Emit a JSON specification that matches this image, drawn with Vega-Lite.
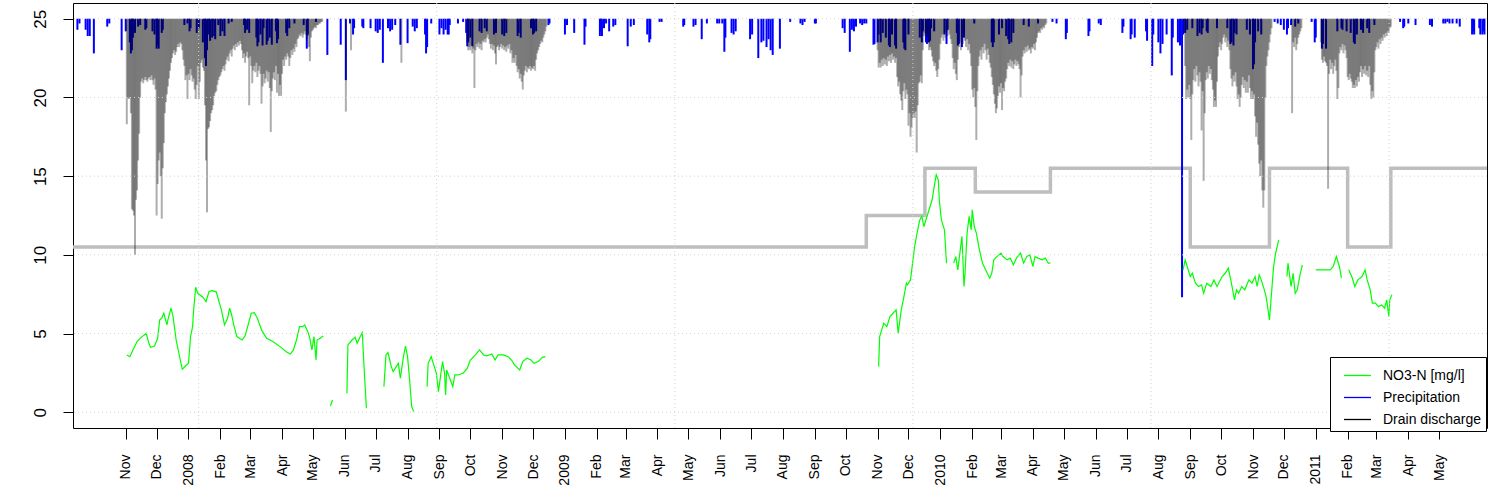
{
"$schema":"https://vega.github.io/schema/vega-lite/v6.json",
"width":1414,"height":425,
"autosize":{"type":"none"},
"padding":{"left":73,"top":3,"right":10,"bottom":61},
"background":"white",
"config":{"font":"Liberation Sans","view":{"stroke":"black","strokeWidth":1},
 "axisX":{"labelOverlap":false,"labelSeparation":0,"labelBound":false,"labelFlush":false},
 "axisY":{"labelOverlap":false,"labelAngle":270}},
"resolve":{"scale":{"y":"independent"}},
"encoding":{
 "x":{"field":"t","type":"temporal","scale":{"type":"utc","domain":[{"year":2007,"month":9,"date":10,"hours":17,"utc":true},{"year":2011,"month":6,"date":16,"hours":12,"utc":true}]},
  "axis":{"values":[1193875200000,1196467200000,1199145600000,1201824000000,1204329600000,1207008000000,1209600000000,1212278400000,1214870400000,1217548800000,1220227200000,1222819200000,1225497600000,1228089600000,1230768000000,1233446400000,1235865600000,1238544000000,1241136000000,1243814400000,1246406400000,1249084800000,1251763200000,1254355200000,1257033600000,1259625600000,1262304000000,1264982400000,1267401600000,1270080000000,1272672000000,1275350400000,1277942400000,1280620800000,1283299200000,1285891200000,1288569600000,1291161600000,1293840000000,1296518400000,1298937600000,1301616000000,1304208000000],
   "labelExpr":"utcmonth(datum.value) == 0 ? utcFormat(datum.value, '%Y') : utcFormat(datum.value, '%b')",
   "labelAngle":270,"labelAlign":"right","labelBaseline":"middle","labelFontSize":14,"labelColor":"black","labelPadding":15,"tickSize":11,"tickColor":"black","domain":false,"grid":false,"title":null,"labelOverlap":false,"labelFlush":false,"labelSeparation":0,"labelBound":false}}},
"datasets":{
"step":[{"t":"2007-09-01","v":10.5},{"t":"2009-10-21","v":12.5},{"t":"2009-12-17","v":15.5},{"t":"2010-02-04","v":14},{"t":"2010-04-18","v":15.5},{"t":"2010-09-01","v":10.5},{"t":"2010-11-17","v":15.5},{"t":"2011-02-01","v":10.5},{"t":"2011-03-15","v":15.5},{"t":"2011-07-01","v":15.5}],
"grid":[{"t":"2008-01-10T21:20:00Z"},{"t":"2008-08-29T08:53:20Z"},{"t":"2009-04-17T20:26:40Z"},{"t":"2009-12-05T08:00:00Z"},{"t":"2010-07-24T19:33:20Z"},{"t":"2011-03-13T07:06:40Z"}],
"hgrid":[{"v":0},{"v":5},{"v":10},{"v":15},{"v":20},{"v":25}],
"prec":[{"t":"2007-09-15","v":0.7},{"t":"2007-09-17","v":0.3},{"t":"2007-09-23","v":0.7},{"t":"2007-09-25","v":1.1},{"t":"2007-09-27","v":1.1},{"t":"2007-10-01","v":2.2},{"t":"2007-10-14","v":0.5},{"t":"2007-10-16","v":0.3},{"t":"2007-10-28","v":2.0},{"t":"2007-11-01","v":0.8},{"t":"2007-11-05","v":1.5},{"t":"2007-11-06","v":2.2},{"t":"2007-11-07","v":2.0},{"t":"2007-11-08","v":1.2},{"t":"2007-11-10","v":0.9},{"t":"2007-11-13","v":0.5},{"t":"2007-11-15","v":0.4},{"t":"2007-11-20","v":0.7},{"t":"2007-11-21","v":0.6},{"t":"2007-11-27","v":0.8},{"t":"2007-11-29","v":1.0},{"t":"2007-12-01","v":1.9},{"t":"2007-12-02","v":1.7},{"t":"2007-12-03","v":1.9},{"t":"2007-12-06","v":0.9},{"t":"2007-12-07","v":0.7},{"t":"2007-12-28","v":0.4},{"t":"2007-12-31","v":0.3},{"t":"2008-01-02","v":0.8},{"t":"2008-01-03","v":0.6},{"t":"2008-01-09","v":0.9},{"t":"2008-01-11","v":0.6},{"t":"2008-01-15","v":1.5},{"t":"2008-01-17","v":2.5},{"t":"2008-01-18","v":3.0},{"t":"2008-01-19","v":2.0},{"t":"2008-01-21","v":1.0},{"t":"2008-01-22","v":1.4},{"t":"2008-01-24","v":1.2},{"t":"2008-01-26","v":1.1},{"t":"2008-01-27","v":1.3},{"t":"2008-01-30","v":0.4},{"t":"2008-02-01","v":1.1},{"t":"2008-02-03","v":0.8},{"t":"2008-02-05","v":1.1},{"t":"2008-02-09","v":0.3},{"t":"2008-02-12","v":0.2},{"t":"2008-02-24","v":0.4},{"t":"2008-02-25","v":0.9},{"t":"2008-02-27","v":0.7},{"t":"2008-02-29","v":0.9},{"t":"2008-03-07","v":1.2},{"t":"2008-03-08","v":1.75},{"t":"2008-03-09","v":1.5},{"t":"2008-03-11","v":1.0},{"t":"2008-03-13","v":1.7},{"t":"2008-03-14","v":0.6},{"t":"2008-03-17","v":1.65},{"t":"2008-03-18","v":1.4},{"t":"2008-03-20","v":1.2},{"t":"2008-03-22","v":1.65},{"t":"2008-03-26","v":0.8},{"t":"2008-03-27","v":1.55},{"t":"2008-03-28","v":1.3},{"t":"2008-04-05","v":0.9},{"t":"2008-04-06","v":1.1},{"t":"2008-04-08","v":0.6},{"t":"2008-04-13","v":0.3},{"t":"2008-04-22","v":0.4},{"t":"2008-04-25","v":1.9},{"t":"2008-04-26","v":1.0},{"t":"2008-05-04","v":0.2},{"t":"2008-05-15","v":2.3},{"t":"2008-05-28","v":1.65},{"t":"2008-06-02","v":3.9},{"t":"2008-06-06","v":0.3},{"t":"2008-06-09","v":1.0},{"t":"2008-06-10","v":0.6},{"t":"2008-06-18","v":0.5},{"t":"2008-06-19","v":0.6},{"t":"2008-06-26","v":0.6},{"t":"2008-07-01","v":0.8},{"t":"2008-07-03","v":0.9},{"t":"2008-07-05","v":0.7},{"t":"2008-07-08","v":2.8},{"t":"2008-07-13","v":0.6},{"t":"2008-07-15","v":0.8},{"t":"2008-07-17","v":0.7},{"t":"2008-07-20","v":0.4},{"t":"2008-07-25","v":1.65},{"t":"2008-08-01","v":1.55},{"t":"2008-08-06","v":0.5},{"t":"2008-08-08","v":0.8},{"t":"2008-08-10","v":0.6},{"t":"2008-08-18","v":1.0},{"t":"2008-08-19","v":2.2},{"t":"2008-08-20","v":1.8},{"t":"2008-08-24","v":0.3},{"t":"2008-09-01","v":1.0},{"t":"2008-09-03","v":0.6},{"t":"2008-09-05","v":1.0},{"t":"2008-09-07","v":0.7},{"t":"2008-09-09","v":1.0},{"t":"2008-09-10","v":1.0},{"t":"2008-09-11","v":0.4},{"t":"2008-09-19","v":0.3},{"t":"2008-09-24","v":0.2},{"t":"2008-09-27","v":0.9},{"t":"2008-09-28","v":1.75},{"t":"2008-09-29","v":1.5},{"t":"2008-10-01","v":1.2},{"t":"2008-10-03","v":1.75},{"t":"2008-10-10","v":0.8},{"t":"2008-10-12","v":0.9},{"t":"2008-10-15","v":0.6},{"t":"2008-10-17","v":0.8},{"t":"2008-10-24","v":1.0},{"t":"2008-10-26","v":0.9},{"t":"2008-11-01","v":1.0},{"t":"2008-11-03","v":1.1},{"t":"2008-11-05","v":0.9},{"t":"2008-11-16","v":1.1},{"t":"2008-11-17","v":0.9},{"t":"2008-11-19","v":1.2},{"t":"2008-11-29","v":0.6},{"t":"2008-12-01","v":1.0},{"t":"2008-12-02","v":0.9},{"t":"2008-12-04","v":0.8},{"t":"2008-12-16","v":0.4},{"t":"2008-12-17","v":0.3},{"t":"2009-01-01","v":1.0},{"t":"2009-01-03","v":0.4},{"t":"2009-01-10","v":0.9},{"t":"2009-01-20","v":1.65},{"t":"2009-01-21","v":0.5},{"t":"2009-02-04","v":1.1},{"t":"2009-02-05","v":0.8},{"t":"2009-02-06","v":1.1},{"t":"2009-02-08","v":0.6},{"t":"2009-02-10","v":0.3},{"t":"2009-02-13","v":0.8},{"t":"2009-02-17","v":0.5},{"t":"2009-02-19","v":0.4},{"t":"2009-03-03","v":1.75},{"t":"2009-03-06","v":0.5},{"t":"2009-03-09","v":0.4},{"t":"2009-03-22","v":1.0},{"t":"2009-03-24","v":1.5},{"t":"2009-03-25","v":1.3},{"t":"2009-04-03","v":0.2},{"t":"2009-04-05","v":0.2},{"t":"2009-04-26","v":0.5},{"t":"2009-04-27","v":0.4},{"t":"2009-05-06","v":0.5},{"t":"2009-05-08","v":0.4},{"t":"2009-05-14","v":1.3},{"t":"2009-05-19","v":0.3},{"t":"2009-05-29","v":0.3},{"t":"2009-05-31","v":0.3},{"t":"2009-06-03","v":0.3},{"t":"2009-06-05","v":2.1},{"t":"2009-06-06","v":1.2},{"t":"2009-06-12","v":0.9},{"t":"2009-06-14","v":1.0},{"t":"2009-06-16","v":0.8},{"t":"2009-06-30","v":1.3},{"t":"2009-07-02","v":1.0},{"t":"2009-07-08","v":2.5},{"t":"2009-07-11","v":1.5},{"t":"2009-07-13","v":1.4},{"t":"2009-07-16","v":1.8},{"t":"2009-07-18","v":1.3},{"t":"2009-07-20","v":2.0},{"t":"2009-07-22","v":2.3},{"t":"2009-07-29","v":1.9},{"t":"2009-08-08","v":0.2},{"t":"2009-08-18","v":0.3},{"t":"2009-08-20","v":0.4},{"t":"2009-08-22","v":0.2},{"t":"2009-09-01","v":0.3},{"t":"2009-09-02","v":0.3},{"t":"2009-09-28","v":0.6},{"t":"2009-09-30","v":0.9},{"t":"2009-10-05","v":2.1},{"t":"2009-10-07","v":0.7},{"t":"2009-10-09","v":0.8},{"t":"2009-10-11","v":0.5},{"t":"2009-10-15","v":0.3},{"t":"2009-10-17","v":0.4},{"t":"2009-10-19","v":0.3},{"t":"2009-10-21","v":0.3},{"t":"2009-10-28","v":1.65},{"t":"2009-10-29","v":1.6},{"t":"2009-11-01","v":1.5},{"t":"2009-11-02","v":1.0},{"t":"2009-11-04","v":1.5},{"t":"2009-11-06","v":0.9},{"t":"2009-11-09","v":1.2},{"t":"2009-11-12","v":1.7},{"t":"2009-11-13","v":1.8},{"t":"2009-11-15","v":1.0},{"t":"2009-11-18","v":1.7},{"t":"2009-11-19","v":1.9},{"t":"2009-11-26","v":1.5},{"t":"2009-11-27","v":1.9},{"t":"2009-11-28","v":2.0},{"t":"2009-12-01","v":1.0},{"t":"2009-12-12","v":1.2},{"t":"2009-12-14","v":1.5},{"t":"2009-12-15","v":0.8},{"t":"2009-12-18","v":1.5},{"t":"2009-12-19","v":1.6},{"t":"2009-12-21","v":1.5},{"t":"2009-12-22","v":1.4},{"t":"2009-12-23","v":0.6},{"t":"2009-12-26","v":0.8},{"t":"2010-01-05","v":1.0},{"t":"2010-01-07","v":1.6},{"t":"2010-01-08","v":0.7},{"t":"2010-01-17","v":0.9},{"t":"2010-01-18","v":1.7},{"t":"2010-01-19","v":1.6},{"t":"2010-01-22","v":1.8},{"t":"2010-01-24","v":1.2},{"t":"2010-02-03","v":0.3},{"t":"2010-02-20","v":1.5},{"t":"2010-02-21","v":1.8},{"t":"2010-02-22","v":1.5},{"t":"2010-02-27","v":1.0},{"t":"2010-03-02","v":0.6},{"t":"2010-03-06","v":1.1},{"t":"2010-03-08","v":1.3},{"t":"2010-03-09","v":1.6},{"t":"2010-03-11","v":1.5},{"t":"2010-03-13","v":0.9},{"t":"2010-03-23","v":0.4},{"t":"2010-03-28","v":0.5},{"t":"2010-04-06","v":0.3},{"t":"2010-04-20","v":0.2},{"t":"2010-04-24","v":0.3},{"t":"2010-05-03","v":1.3},{"t":"2010-05-04","v":0.9},{"t":"2010-05-25","v":1.1},{"t":"2010-05-26","v":0.8},{"t":"2010-06-04","v":0.3},{"t":"2010-06-06","v":0.4},{"t":"2010-06-27","v":0.9},{"t":"2010-06-28","v":0.5},{"t":"2010-07-05","v":1.3},{"t":"2010-07-06","v":1.0},{"t":"2010-07-09","v":1.2},{"t":"2010-07-20","v":0.8},{"t":"2010-07-21","v":1.4},{"t":"2010-07-26","v":3.0},{"t":"2010-07-27","v":1.0},{"t":"2010-08-01","v":1.5},{"t":"2010-08-03","v":2.2},{"t":"2010-08-05","v":1.6},{"t":"2010-08-09","v":1.0},{"t":"2010-08-14","v":3.6},{"t":"2010-08-15","v":1.2},{"t":"2010-08-20","v":1.5},{"t":"2010-08-22","v":1.7},{"t":"2010-08-24","v":17.7},{"t":"2010-08-25","v":1.0},{"t":"2010-08-27","v":0.9},{"t":"2010-08-29","v":0.7},{"t":"2010-09-03","v":0.6},{"t":"2010-09-08","v":1.1},{"t":"2010-09-10","v":0.9},{"t":"2010-09-12","v":1.0},{"t":"2010-09-13","v":0.6},{"t":"2010-09-17","v":0.8},{"t":"2010-09-18","v":0.9},{"t":"2010-09-27","v":0.6},{"t":"2010-10-07","v":0.6},{"t":"2010-10-10","v":1.6},{"t":"2010-10-11","v":1.5},{"t":"2010-10-13","v":1.7},{"t":"2010-10-14","v":0.9},{"t":"2010-10-16","v":1.0},{"t":"2010-10-26","v":0.7},{"t":"2010-10-29","v":1.0},{"t":"2010-11-01","v":3.2},{"t":"2010-11-02","v":2.9},{"t":"2010-11-03","v":1.5},{"t":"2010-11-06","v":0.8},{"t":"2010-11-09","v":1.0},{"t":"2010-11-22","v":0.2},{"t":"2010-11-25","v":0.3},{"t":"2010-11-28","v":0.4},{"t":"2010-12-01","v":0.7},{"t":"2010-12-04","v":1.0},{"t":"2010-12-05","v":0.6},{"t":"2010-12-08","v":0.4},{"t":"2010-12-12","v":0.5},{"t":"2010-12-15","v":0.3},{"t":"2010-12-28","v":0.2},{"t":"2010-12-31","v":1.5},{"t":"2011-01-01","v":1.2},{"t":"2011-01-07","v":1.9},{"t":"2011-01-08","v":1.6},{"t":"2011-01-11","v":1.9},{"t":"2011-01-22","v":0.8},{"t":"2011-01-26","v":0.6},{"t":"2011-01-27","v":0.7},{"t":"2011-01-31","v":0.8},{"t":"2011-02-04","v":0.9},{"t":"2011-02-07","v":1.5},{"t":"2011-02-08","v":1.6},{"t":"2011-02-10","v":1.0},{"t":"2011-02-14","v":0.7},{"t":"2011-02-16","v":0.9},{"t":"2011-02-20","v":0.6},{"t":"2011-02-22","v":0.9},{"t":"2011-02-27","v":0.4},{"t":"2011-03-24","v":0.2},{"t":"2011-03-27","v":0.6},{"t":"2011-03-28","v":0.5},{"t":"2011-04-01","v":0.3},{"t":"2011-04-08","v":0.4},{"t":"2011-04-22","v":0.4},{"t":"2011-04-24","v":0.5},{"t":"2011-05-05","v":0.3},{"t":"2011-05-07","v":0.3},{"t":"2011-05-09","v":0.2},{"t":"2011-05-11","v":0.3},{"t":"2011-05-14","v":0.3},{"t":"2011-05-18","v":0.3},{"t":"2011-05-21","v":0.5},{"t":"2011-06-02","v":1.0},{"t":"2011-06-03","v":0.8},{"t":"2011-06-04","v":1.0},{"t":"2011-06-09","v":0.6},{"t":"2011-06-10","v":1.0},{"t":"2011-06-12","v":1.0},{"t":"2011-06-13","v":0.8},{"t":"2011-06-14","v":1.0}],
"dis":[{"t":"2007-11-02","v":6.7},{"t":"2007-11-03","v":5.0},{"t":"2007-11-04","v":5.1},{"t":"2007-11-05","v":5.0},{"t":"2007-11-06","v":6.0},{"t":"2007-11-07","v":12.1},{"t":"2007-11-08","v":12.2},{"t":"2007-11-09","v":12.5},{"t":"2007-11-10","v":15.0},{"t":"2007-11-11","v":11.5},{"t":"2007-11-12","v":10.9},{"t":"2007-11-13","v":9.0},{"t":"2007-11-14","v":7.3},{"t":"2007-11-15","v":5.0},{"t":"2007-11-16","v":4.0},{"t":"2007-11-17","v":3.8},{"t":"2007-11-18","v":4.1},{"t":"2007-11-19","v":3.9},{"t":"2007-11-20","v":3.7},{"t":"2007-11-21","v":3.9},{"t":"2007-11-22","v":4.0},{"t":"2007-11-23","v":3.8},{"t":"2007-11-24","v":3.7},{"t":"2007-11-25","v":3.9},{"t":"2007-11-26","v":3.6},{"t":"2007-11-27","v":3.9},{"t":"2007-11-28","v":4.2},{"t":"2007-11-29","v":3.8},{"t":"2007-11-30","v":4.5},{"t":"2007-12-01","v":12.5},{"t":"2007-12-02","v":10.5},{"t":"2007-12-03","v":9.0},{"t":"2007-12-04","v":8.5},{"t":"2007-12-05","v":10.0},{"t":"2007-12-06","v":12.7},{"t":"2007-12-07","v":9.5},{"t":"2007-12-08","v":7.9},{"t":"2007-12-09","v":6.0},{"t":"2007-12-10","v":5.3},{"t":"2007-12-11","v":4.8},{"t":"2007-12-12","v":4.3},{"t":"2007-12-13","v":3.8},{"t":"2007-12-14","v":3.3},{"t":"2007-12-15","v":2.8},{"t":"2007-12-16","v":2.5},{"t":"2007-12-17","v":2.2},{"t":"2007-12-18","v":2.0},{"t":"2007-12-19","v":2.3},{"t":"2007-12-20","v":2.1},{"t":"2007-12-21","v":1.8},{"t":"2007-12-22","v":1.6},{"t":"2007-12-23","v":1.8},{"t":"2007-12-24","v":1.5},{"t":"2007-12-25","v":1.6},{"t":"2007-12-26","v":2.0},{"t":"2007-12-27","v":2.6},{"t":"2007-12-28","v":3.0},{"t":"2007-12-29","v":3.9},{"t":"2007-12-30","v":3.6},{"t":"2007-12-31","v":5.1},{"t":"2008-01-01","v":3.5},{"t":"2008-01-02","v":3.9},{"t":"2008-01-03","v":3.2},{"t":"2008-01-04","v":3.6},{"t":"2008-01-05","v":4.0},{"t":"2008-01-06","v":3.8},{"t":"2008-01-07","v":4.5},{"t":"2008-01-08","v":5.1},{"t":"2008-01-09","v":4.2},{"t":"2008-01-10","v":3.0},{"t":"2008-01-11","v":5.1},{"t":"2008-01-12","v":4.0},{"t":"2008-01-13","v":2.8},{"t":"2008-01-14","v":2.6},{"t":"2008-01-15","v":3.1},{"t":"2008-01-16","v":3.3},{"t":"2008-01-17","v":5.5},{"t":"2008-01-18","v":9.0},{"t":"2008-01-19","v":12.3},{"t":"2008-01-20","v":7.0},{"t":"2008-01-21","v":6.9},{"t":"2008-01-22","v":6.5},{"t":"2008-01-23","v":6.0},{"t":"2008-01-24","v":5.8},{"t":"2008-01-25","v":5.5},{"t":"2008-01-26","v":4.9},{"t":"2008-01-27","v":4.7},{"t":"2008-01-28","v":4.6},{"t":"2008-01-29","v":4.2},{"t":"2008-01-30","v":3.9},{"t":"2008-01-31","v":3.7},{"t":"2008-02-01","v":3.6},{"t":"2008-02-02","v":3.4},{"t":"2008-02-03","v":3.2},{"t":"2008-02-04","v":3.0},{"t":"2008-02-05","v":3.3},{"t":"2008-02-06","v":2.9},{"t":"2008-02-07","v":2.6},{"t":"2008-02-08","v":2.4},{"t":"2008-02-09","v":2.7},{"t":"2008-02-10","v":2.2},{"t":"2008-02-11","v":2.0},{"t":"2008-02-12","v":2.4},{"t":"2008-02-13","v":1.9},{"t":"2008-02-14","v":1.7},{"t":"2008-02-15","v":2.0},{"t":"2008-02-16","v":1.6},{"t":"2008-02-17","v":1.8},{"t":"2008-02-18","v":1.5},{"t":"2008-02-19","v":1.7},{"t":"2008-02-20","v":1.4},{"t":"2008-02-21","v":1.6},{"t":"2008-02-22","v":2.0},{"t":"2008-02-23","v":2.5},{"t":"2008-02-24","v":2.2},{"t":"2008-02-25","v":2.8},{"t":"2008-02-26","v":2.4},{"t":"2008-02-27","v":2.1},{"t":"2008-02-28","v":2.5},{"t":"2008-02-29","v":5.5},{"t":"2008-03-01","v":2.4},{"t":"2008-03-02","v":3.0},{"t":"2008-03-03","v":4.1},{"t":"2008-03-04","v":3.3},{"t":"2008-03-05","v":3.0},{"t":"2008-03-06","v":3.4},{"t":"2008-03-07","v":2.8},{"t":"2008-03-08","v":3.7},{"t":"2008-03-09","v":3.3},{"t":"2008-03-10","v":3.0},{"t":"2008-03-11","v":3.5},{"t":"2008-03-12","v":5.4},{"t":"2008-03-13","v":4.3},{"t":"2008-03-14","v":3.5},{"t":"2008-03-15","v":4.1},{"t":"2008-03-16","v":3.8},{"t":"2008-03-17","v":3.3},{"t":"2008-03-18","v":4.0},{"t":"2008-03-19","v":3.4},{"t":"2008-03-20","v":4.4},{"t":"2008-03-21","v":7.2},{"t":"2008-03-22","v":4.6},{"t":"2008-03-23","v":3.8},{"t":"2008-03-24","v":3.4},{"t":"2008-03-25","v":3.9},{"t":"2008-03-26","v":3.0},{"t":"2008-03-27","v":4.7},{"t":"2008-03-28","v":3.5},{"t":"2008-03-29","v":4.9},{"t":"2008-03-30","v":4.2},{"t":"2008-03-31","v":4.9},{"t":"2008-04-01","v":3.5},{"t":"2008-04-02","v":2.6},{"t":"2008-04-03","v":3.0},{"t":"2008-04-04","v":2.4},{"t":"2008-04-05","v":2.6},{"t":"2008-04-06","v":2.2},{"t":"2008-04-07","v":2.4},{"t":"2008-04-08","v":3.0},{"t":"2008-04-09","v":2.5},{"t":"2008-04-10","v":2.0},{"t":"2008-04-11","v":2.3},{"t":"2008-04-12","v":1.9},{"t":"2008-04-13","v":2.1},{"t":"2008-04-14","v":1.6},{"t":"2008-04-15","v":1.8},{"t":"2008-04-16","v":1.3},{"t":"2008-04-17","v":1.2},{"t":"2008-04-18","v":1.0},{"t":"2008-04-19","v":1.1},{"t":"2008-04-20","v":0.9},{"t":"2008-04-21","v":1.2},{"t":"2008-04-22","v":1.0},{"t":"2008-04-23","v":0.8},{"t":"2008-04-24","v":1.0},{"t":"2008-04-25","v":1.3},{"t":"2008-04-26","v":1.1},{"t":"2008-04-27","v":1.8},{"t":"2008-04-28","v":2.7},{"t":"2008-04-29","v":1.2},{"t":"2008-04-30","v":0.8},{"t":"2008-05-01","v":0.7},{"t":"2008-05-02","v":0.6},{"t":"2008-05-03","v":0.5},{"t":"2008-05-04","v":0.6},{"t":"2008-05-05","v":0.4},{"t":"2008-05-06","v":0.4},{"t":"2008-05-07","v":0.3},{"t":"2008-05-08","v":0.3},{"t":"2008-05-09","v":0.2},{"t":"2008-05-10","v":0.2},{"t":"2008-06-02","v":5.9},{"t":"2008-06-07","v":2.0},{"t":"2008-07-26","v":2.8},
{"t":"2008-09-28","v":1.5},{"t":"2008-09-29","v":2.0},{"t":"2008-09-30","v":1.8},{"t":"2008-10-01","v":2.0},{"t":"2008-10-02","v":1.7},{"t":"2008-10-03","v":2.2},{"t":"2008-10-04","v":1.9},{"t":"2008-10-05","v":4.4},{"t":"2008-10-06","v":2.0},{"t":"2008-10-07","v":1.6},{"t":"2008-10-08","v":1.8},{"t":"2008-10-09","v":1.5},{"t":"2008-10-10","v":1.9},{"t":"2008-10-11","v":1.6},{"t":"2008-10-12","v":2.0},{"t":"2008-10-13","v":1.4},{"t":"2008-10-14","v":1.5},{"t":"2008-10-15","v":1.3},{"t":"2008-10-16","v":1.5},{"t":"2008-10-17","v":1.2},{"t":"2008-10-18","v":1.0},{"t":"2008-10-19","v":1.3},{"t":"2008-10-20","v":1.6},{"t":"2008-10-21","v":1.9},{"t":"2008-10-22","v":1.6},{"t":"2008-10-23","v":2.0},{"t":"2008-10-24","v":1.7},{"t":"2008-10-25","v":2.2},{"t":"2008-10-26","v":2.9},{"t":"2008-10-27","v":1.8},{"t":"2008-10-28","v":1.7},{"t":"2008-10-29","v":2.0},{"t":"2008-10-30","v":1.8},{"t":"2008-10-31","v":1.6},{"t":"2008-11-01","v":1.9},{"t":"2008-11-02","v":1.7},{"t":"2008-11-03","v":2.0},{"t":"2008-11-04","v":1.8},{"t":"2008-11-05","v":2.1},{"t":"2008-11-06","v":1.7},{"t":"2008-11-07","v":1.9},{"t":"2008-11-08","v":1.6},{"t":"2008-11-09","v":2.2},{"t":"2008-11-10","v":2.0},{"t":"2008-11-11","v":2.8},{"t":"2008-11-12","v":2.5},{"t":"2008-11-13","v":2.8},{"t":"2008-11-14","v":2.3},{"t":"2008-11-15","v":3.0},{"t":"2008-11-16","v":3.4},{"t":"2008-11-17","v":3.2},{"t":"2008-11-18","v":3.8},{"t":"2008-11-19","v":3.5},{"t":"2008-11-20","v":4.0},{"t":"2008-11-21","v":4.5},{"t":"2008-11-22","v":3.6},{"t":"2008-11-23","v":3.3},{"t":"2008-11-24","v":3.0},{"t":"2008-11-25","v":3.4},{"t":"2008-11-26","v":3.1},{"t":"2008-11-27","v":3.2},{"t":"2008-11-28","v":3.0},{"t":"2008-11-29","v":3.3},{"t":"2008-11-30","v":3.1},{"t":"2008-12-01","v":3.2},{"t":"2008-12-02","v":3.0},{"t":"2008-12-03","v":3.3},{"t":"2008-12-04","v":2.6},{"t":"2008-12-05","v":2.2},{"t":"2008-12-06","v":2.0},{"t":"2008-12-07","v":1.8},{"t":"2008-12-08","v":1.6},{"t":"2008-12-09","v":1.4},{"t":"2008-12-10","v":1.5},{"t":"2008-12-11","v":1.2},{"t":"2008-12-12","v":1.0},{"t":"2008-12-13","v":0.8},{"t":"2008-12-14","v":0.5},
{"t":"2009-11-01","v":2.0},{"t":"2009-11-02","v":3.1},{"t":"2009-11-03","v":2.8},{"t":"2009-11-04","v":3.1},{"t":"2009-11-05","v":2.6},{"t":"2009-11-06","v":3.0},{"t":"2009-11-07","v":2.5},{"t":"2009-11-08","v":2.9},{"t":"2009-11-09","v":2.6},{"t":"2009-11-10","v":3.0},{"t":"2009-11-11","v":2.4},{"t":"2009-11-12","v":2.7},{"t":"2009-11-13","v":2.3},{"t":"2009-11-14","v":2.8},{"t":"2009-11-15","v":2.2},{"t":"2009-11-16","v":2.6},{"t":"2009-11-17","v":2.4},{"t":"2009-11-18","v":2.8},{"t":"2009-11-19","v":2.5},{"t":"2009-11-20","v":3.7},{"t":"2009-11-21","v":4.3},{"t":"2009-11-22","v":4.0},{"t":"2009-11-23","v":4.8},{"t":"2009-11-24","v":5.2},{"t":"2009-11-25","v":5.8},{"t":"2009-11-26","v":4.6},{"t":"2009-11-27","v":4.1},{"t":"2009-11-28","v":5.1},{"t":"2009-11-29","v":4.5},{"t":"2009-11-30","v":4.8},{"t":"2009-12-01","v":6.8},{"t":"2009-12-02","v":6.0},{"t":"2009-12-03","v":7.5},{"t":"2009-12-04","v":6.9},{"t":"2009-12-05","v":6.3},{"t":"2009-12-06","v":6.0},{"t":"2009-12-07","v":6.3},{"t":"2009-12-08","v":5.9},{"t":"2009-12-09","v":8.5},{"t":"2009-12-10","v":5.5},{"t":"2009-12-11","v":4.1},{"t":"2009-12-12","v":4.0},{"t":"2009-12-13","v":3.6},{"t":"2009-12-14","v":4.1},{"t":"2009-12-15","v":2.0},{"t":"2009-12-16","v":1.1},{"t":"2009-12-17","v":0.9},{"t":"2009-12-18","v":1.0},{"t":"2009-12-19","v":1.2},{"t":"2009-12-20","v":1.5},{"t":"2009-12-21","v":2.0},{"t":"2009-12-22","v":1.8},{"t":"2009-12-23","v":2.0},{"t":"2009-12-24","v":2.4},{"t":"2009-12-25","v":2.7},{"t":"2009-12-26","v":3.0},{"t":"2009-12-27","v":2.8},{"t":"2009-12-28","v":3.3},{"t":"2009-12-29","v":3.7},{"t":"2009-12-30","v":3.2},{"t":"2009-12-31","v":2.6},{"t":"2010-01-01","v":1.6},{"t":"2010-01-02","v":1.2},{"t":"2010-01-03","v":1.0},{"t":"2010-01-04","v":1.4},{"t":"2010-01-05","v":0.9},{"t":"2010-01-06","v":1.2},{"t":"2010-01-07","v":0.8},{"t":"2010-01-08","v":1.1},{"t":"2010-01-09","v":0.7},{"t":"2010-01-10","v":1.0},{"t":"2010-01-11","v":1.3},{"t":"2010-01-12","v":1.6},{"t":"2010-01-13","v":2.5},{"t":"2010-01-14","v":3.2},{"t":"2010-01-15","v":2.8},{"t":"2010-01-16","v":3.5},{"t":"2010-01-17","v":3.9},{"t":"2010-01-18","v":2.6},{"t":"2010-01-19","v":1.8},{"t":"2010-01-20","v":1.5},{"t":"2010-01-21","v":2.0},{"t":"2010-01-22","v":1.2},{"t":"2010-01-23","v":1.6},{"t":"2010-01-24","v":1.0},{"t":"2010-01-25","v":1.4},{"t":"2010-01-26","v":1.8},{"t":"2010-01-27","v":1.3},{"t":"2010-01-28","v":2.0},{"t":"2010-01-29","v":1.6},{"t":"2010-01-30","v":2.2},{"t":"2010-01-31","v":3.0},{"t":"2010-02-01","v":4.5},{"t":"2010-02-02","v":5.0},{"t":"2010-02-03","v":4.4},{"t":"2010-02-04","v":5.6},{"t":"2010-02-05","v":7.7},{"t":"2010-02-06","v":4.6},{"t":"2010-02-07","v":3.0},{"t":"2010-02-08","v":2.4},{"t":"2010-02-09","v":2.0},{"t":"2010-02-10","v":2.6},{"t":"2010-02-11","v":1.8},{"t":"2010-02-12","v":2.2},{"t":"2010-02-13","v":1.6},{"t":"2010-02-14","v":2.0},{"t":"2010-02-15","v":2.6},{"t":"2010-02-16","v":1.9},{"t":"2010-02-17","v":2.3},{"t":"2010-02-18","v":2.8},{"t":"2010-02-19","v":3.1},{"t":"2010-02-20","v":3.7},{"t":"2010-02-21","v":4.2},{"t":"2010-02-22","v":4.8},{"t":"2010-02-23","v":5.4},{"t":"2010-02-24","v":6.0},{"t":"2010-02-25","v":5.7},{"t":"2010-02-26","v":4.9},{"t":"2010-02-27","v":4.3},{"t":"2010-02-28","v":4.7},{"t":"2010-03-01","v":4.1},{"t":"2010-03-02","v":5.8},{"t":"2010-03-03","v":4.4},{"t":"2010-03-04","v":4.6},{"t":"2010-03-05","v":4.0},{"t":"2010-03-06","v":3.8},{"t":"2010-03-07","v":3.2},{"t":"2010-03-08","v":2.8},{"t":"2010-03-09","v":3.0},{"t":"2010-03-10","v":2.6},{"t":"2010-03-11","v":3.1},{"t":"2010-03-12","v":2.7},{"t":"2010-03-13","v":3.2},{"t":"2010-03-14","v":2.9},{"t":"2010-03-15","v":2.6},{"t":"2010-03-16","v":3.0},{"t":"2010-03-17","v":2.7},{"t":"2010-03-18","v":2.9},{"t":"2010-03-19","v":3.2},{"t":"2010-03-20","v":5.0},{"t":"2010-03-21","v":3.6},{"t":"2010-03-22","v":2.4},{"t":"2010-03-23","v":2.0},{"t":"2010-03-24","v":2.2},{"t":"2010-03-25","v":1.8},{"t":"2010-03-26","v":2.1},{"t":"2010-03-27","v":1.7},{"t":"2010-03-28","v":2.0},{"t":"2010-03-29","v":1.9},{"t":"2010-03-30","v":2.2},{"t":"2010-03-31","v":1.8},{"t":"2010-04-01","v":1.9},{"t":"2010-04-02","v":1.6},{"t":"2010-04-03","v":2.0},{"t":"2010-04-04","v":1.5},{"t":"2010-04-05","v":1.2},{"t":"2010-04-06","v":0.9},{"t":"2010-04-07","v":0.8},{"t":"2010-04-08","v":0.9},{"t":"2010-04-09","v":0.6},{"t":"2010-04-10","v":0.7},{"t":"2010-04-11","v":0.5},{"t":"2010-04-12","v":0.6},{"t":"2010-04-13","v":0.4},{"t":"2010-04-14","v":0.3},
{"t":"2010-08-26","v":0.9},{"t":"2010-08-27","v":3.0},{"t":"2010-08-28","v":5.1},{"t":"2010-08-29","v":4.5},{"t":"2010-08-30","v":5.0},{"t":"2010-08-31","v":4.2},{"t":"2010-09-01","v":5.1},{"t":"2010-09-02","v":7.7},{"t":"2010-09-03","v":4.8},{"t":"2010-09-04","v":3.9},{"t":"2010-09-05","v":3.2},{"t":"2010-09-06","v":4.0},{"t":"2010-09-07","v":3.0},{"t":"2010-09-08","v":3.6},{"t":"2010-09-09","v":4.3},{"t":"2010-09-10","v":3.4},{"t":"2010-09-11","v":4.0},{"t":"2010-09-12","v":7.1},{"t":"2010-09-13","v":4.6},{"t":"2010-09-14","v":10.3},{"t":"2010-09-15","v":6.0},{"t":"2010-09-16","v":3.9},{"t":"2010-09-17","v":3.4},{"t":"2010-09-18","v":3.8},{"t":"2010-09-19","v":3.0},{"t":"2010-09-20","v":3.5},{"t":"2010-09-21","v":3.2},{"t":"2010-09-22","v":3.9},{"t":"2010-09-23","v":4.5},{"t":"2010-09-24","v":5.6},{"t":"2010-09-25","v":5.2},{"t":"2010-09-26","v":5.6},{"t":"2010-09-27","v":4.0},{"t":"2010-09-28","v":2.4},{"t":"2010-09-29","v":1.8},{"t":"2010-09-30","v":1.5},{"t":"2010-10-01","v":2.0},{"t":"2010-10-02","v":1.6},{"t":"2010-10-03","v":1.2},{"t":"2010-10-04","v":1.0},{"t":"2010-10-05","v":1.5},{"t":"2010-10-06","v":1.2},{"t":"2010-10-07","v":1.8},{"t":"2010-10-08","v":1.4},{"t":"2010-10-09","v":2.0},{"t":"2010-10-10","v":3.2},{"t":"2010-10-11","v":3.8},{"t":"2010-10-12","v":4.3},{"t":"2010-10-13","v":3.6},{"t":"2010-10-14","v":4.0},{"t":"2010-10-15","v":3.4},{"t":"2010-10-16","v":4.3},{"t":"2010-10-17","v":5.1},{"t":"2010-10-18","v":4.8},{"t":"2010-10-19","v":5.6},{"t":"2010-10-20","v":5.0},{"t":"2010-10-21","v":4.2},{"t":"2010-10-22","v":3.7},{"t":"2010-10-23","v":4.4},{"t":"2010-10-24","v":3.9},{"t":"2010-10-25","v":4.7},{"t":"2010-10-26","v":4.0},{"t":"2010-10-27","v":4.7},{"t":"2010-10-28","v":3.6},{"t":"2010-10-29","v":4.4},{"t":"2010-10-30","v":5.1},{"t":"2010-10-31","v":4.6},{"t":"2010-11-01","v":5.1},{"t":"2010-11-02","v":4.8},{"t":"2010-11-03","v":6.2},{"t":"2010-11-04","v":7.5},{"t":"2010-11-05","v":6.6},{"t":"2010-11-06","v":8.0},{"t":"2010-11-07","v":9.2},{"t":"2010-11-08","v":10.0},{"t":"2010-11-09","v":9.0},{"t":"2010-11-10","v":10.9},{"t":"2010-11-11","v":12.0},{"t":"2010-11-12","v":10.9},{"t":"2010-11-13","v":5.0},{"t":"2010-11-14","v":3.0},{"t":"2010-11-15","v":2.4},{"t":"2010-11-16","v":2.0},{"t":"2010-11-17","v":1.5},{"t":"2010-11-18","v":1.0},{"t":"2010-11-19","v":0.6},{"t":"2010-12-09","v":6.0},{"t":"2010-12-10","v":1.5},{"t":"2010-12-11","v":1.8},{"t":"2010-12-12","v":1.2},{"t":"2010-12-13","v":2.0},{"t":"2010-12-14","v":1.6},{"t":"2010-12-15","v":1.2},{"t":"2010-12-16","v":1.0},{"t":"2010-12-17","v":0.8},{"t":"2010-12-18","v":0.6},{"t":"2011-01-06","v":1.5},{"t":"2011-01-07","v":2.6},{"t":"2011-01-08","v":2.8},{"t":"2011-01-09","v":2.4},{"t":"2011-01-10","v":2.7},{"t":"2011-01-11","v":2.8},{"t":"2011-01-12","v":3.0},{"t":"2011-01-13","v":10.8},{"t":"2011-01-14","v":3.5},{"t":"2011-01-15","v":2.6},{"t":"2011-01-16","v":3.2},{"t":"2011-01-17","v":2.8},{"t":"2011-01-18","v":3.5},{"t":"2011-01-19","v":3.0},{"t":"2011-01-20","v":2.6},{"t":"2011-01-21","v":3.3},{"t":"2011-01-22","v":5.1},{"t":"2011-01-23","v":4.4},{"t":"2011-01-24","v":2.2},{"t":"2011-01-25","v":1.8},{"t":"2011-01-26","v":2.0},{"t":"2011-01-27","v":1.6},{"t":"2011-01-28","v":2.2},{"t":"2011-01-29","v":1.7},{"t":"2011-01-30","v":2.0},{"t":"2011-01-31","v":2.5},{"t":"2011-02-01","v":3.7},{"t":"2011-02-02","v":3.9},{"t":"2011-02-03","v":3.5},{"t":"2011-02-04","v":3.8},{"t":"2011-02-05","v":4.0},{"t":"2011-02-06","v":4.4},{"t":"2011-02-07","v":4.2},{"t":"2011-02-08","v":4.4},{"t":"2011-02-09","v":3.9},{"t":"2011-02-10","v":4.3},{"t":"2011-02-11","v":3.7},{"t":"2011-02-12","v":4.0},{"t":"2011-02-13","v":3.4},{"t":"2011-02-14","v":3.0},{"t":"2011-02-15","v":3.7},{"t":"2011-02-16","v":3.2},{"t":"2011-02-17","v":3.5},{"t":"2011-02-18","v":3.0},{"t":"2011-02-19","v":3.6},{"t":"2011-02-20","v":3.3},{"t":"2011-02-21","v":3.7},{"t":"2011-02-22","v":3.0},{"t":"2011-02-23","v":4.2},{"t":"2011-02-24","v":5.1},{"t":"2011-02-25","v":4.6},{"t":"2011-02-26","v":5.0},{"t":"2011-02-27","v":3.4},{"t":"2011-02-28","v":2.0},{"t":"2011-03-01","v":1.8},{"t":"2011-03-02","v":1.5},{"t":"2011-03-03","v":1.9},{"t":"2011-03-04","v":1.3},{"t":"2011-03-05","v":1.6},{"t":"2011-03-06","v":1.2},{"t":"2011-03-07","v":1.4},{"t":"2011-03-08","v":1.0},{"t":"2011-03-09","v":1.2},{"t":"2011-03-10","v":0.9},{"t":"2011-03-11","v":1.1},{"t":"2011-03-12","v":0.8},{"t":"2011-03-13","v":0.9},{"t":"2011-03-14","v":0.6},{"t":"2011-03-15","v":0.5}],
"no3":[{"t":"2007-11-02","v":3.64,"s":1},{"t":"2007-11-05","v":3.53,"s":1},{"t":"2007-11-08","v":3.96,"s":1},{"t":"2007-11-12","v":4.49,"s":1},{"t":"2007-11-16","v":4.76,"s":1},{"t":"2007-11-21","v":5.02,"s":1},{"t":"2007-11-23","v":4.49,"s":1},{"t":"2007-11-25","v":4.13,"s":1},{"t":"2007-11-29","v":4.21,"s":1},{"t":"2007-12-02","v":4.70,"s":1},{"t":"2007-12-04","v":5.87,"s":1},{"t":"2007-12-06","v":5.97,"s":1},{"t":"2007-12-08","v":6.29,"s":1},{"t":"2007-12-11","v":5.55,"s":1},{"t":"2007-12-12","v":5.87,"s":1},{"t":"2007-12-15","v":6.61,"s":1},{"t":"2007-12-17","v":6.08,"s":1},{"t":"2007-12-20","v":4.59,"s":1},{"t":"2007-12-24","v":3.32,"s":1},{"t":"2007-12-26","v":2.73,"s":1},{"t":"2007-12-29","v":2.94,"s":1},{"t":"2008-01-01","v":3.11,"s":1},{"t":"2008-01-03","v":4.81,"s":1},{"t":"2008-01-05","v":5.44,"s":1},{"t":"2008-01-06","v":6.50,"s":1},{"t":"2008-01-08","v":7.94,"s":1},{"t":"2008-01-10","v":7.56,"s":1},{"t":"2008-01-15","v":7.31,"s":1},{"t":"2008-01-18","v":7.03,"s":1},{"t":"2008-01-21","v":7.67,"s":1},{"t":"2008-01-24","v":7.73,"s":1},{"t":"2008-01-28","v":7.65,"s":1},{"t":"2008-01-30","v":7.18,"s":1},{"t":"2008-02-02","v":6.50,"s":1},{"t":"2008-02-05","v":5.55,"s":1},{"t":"2008-02-08","v":5.97,"s":1},{"t":"2008-02-10","v":6.61,"s":1},{"t":"2008-02-12","v":6.18,"s":1},{"t":"2008-02-14","v":5.55,"s":1},{"t":"2008-02-17","v":4.81,"s":1},{"t":"2008-02-22","v":4.59,"s":1},{"t":"2008-02-25","v":4.85,"s":1},{"t":"2008-02-28","v":5.55,"s":1},{"t":"2008-03-02","v":6.29,"s":1},{"t":"2008-03-05","v":6.33,"s":1},{"t":"2008-03-08","v":5.97,"s":1},{"t":"2008-03-12","v":5.23,"s":1},{"t":"2008-03-17","v":4.70,"s":1},{"t":"2008-03-23","v":4.49,"s":1},{"t":"2008-03-30","v":4.17,"s":1},{"t":"2008-04-05","v":3.85,"s":1},{"t":"2008-04-09","v":3.70,"s":1},{"t":"2008-04-12","v":3.96,"s":1},{"t":"2008-04-15","v":4.59,"s":1},{"t":"2008-04-18","v":5.44,"s":1},{"t":"2008-04-21","v":5.44,"s":1},{"t":"2008-04-23","v":5.55,"s":1},{"t":"2008-04-26","v":5.12,"s":1},{"t":"2008-04-28","v":4.70,"s":1},{"t":"2008-04-30","v":3.96,"s":1},{"t":"2008-05-02","v":4.81,"s":1},{"t":"2008-05-04","v":3.32,"s":1},{"t":"2008-05-05","v":4.59,"s":1},{"t":"2008-05-08","v":4.70,"s":1},{"t":"2008-05-11","v":4.85,"s":1},
{"t":"2008-05-18","v":0.40,"s":2},{"t":"2008-05-20","v":0.78,"s":2},
{"t":"2008-06-03","v":1.20,"s":3},{"t":"2008-06-04","v":4.28,"s":3},{"t":"2008-06-08","v":4.59,"s":3},{"t":"2008-06-11","v":4.76,"s":3},{"t":"2008-06-13","v":4.38,"s":3},{"t":"2008-06-16","v":4.81,"s":3},{"t":"2008-06-18","v":5.06,"s":3},{"t":"2008-06-20","v":2.48,"s":3},{"t":"2008-06-22","v":0.25,"s":3},
{"t":"2008-07-09","v":1.63,"s":4},{"t":"2008-07-11","v":3.64,"s":4},{"t":"2008-07-13","v":3.79,"s":4},{"t":"2008-07-16","v":2.94,"s":4},{"t":"2008-07-18","v":2.58,"s":4},{"t":"2008-07-21","v":2.90,"s":4},{"t":"2008-07-23","v":3.11,"s":4},{"t":"2008-07-25","v":2.16,"s":4},{"t":"2008-07-28","v":3.53,"s":4},{"t":"2008-07-30","v":4.21,"s":4},{"t":"2008-08-01","v":3.53,"s":4},{"t":"2008-08-03","v":2.05,"s":4},{"t":"2008-08-05","v":0.36,"s":4},{"t":"2008-08-07","v":0.04,"s":4},
{"t":"2008-08-20","v":1.63,"s":5},{"t":"2008-08-21","v":3.11,"s":5},{"t":"2008-08-24","v":3.53,"s":5},{"t":"2008-08-27","v":2.90,"s":5},{"t":"2008-08-29","v":2.48,"s":5},{"t":"2008-08-31","v":1.31,"s":5},{"t":"2008-09-02","v":2.26,"s":5},{"t":"2008-09-04","v":3.22,"s":5},{"t":"2008-09-06","v":2.48,"s":5},{"t":"2008-09-07","v":1.10,"s":5},{"t":"2008-09-08","v":2.69,"s":5},{"t":"2008-09-11","v":2.16,"s":5},{"t":"2008-09-14","v":1.63,"s":5},{"t":"2008-09-16","v":2.37,"s":5},{"t":"2008-09-19","v":2.37,"s":5},{"t":"2008-09-24","v":2.48,"s":5},{"t":"2008-09-28","v":2.79,"s":5},{"t":"2008-10-01","v":3.32,"s":5},{"t":"2008-10-06","v":3.64,"s":5},{"t":"2008-10-10","v":3.96,"s":5},{"t":"2008-10-14","v":3.64,"s":5},{"t":"2008-10-17","v":3.58,"s":5},{"t":"2008-10-22","v":3.70,"s":5},{"t":"2008-10-25","v":3.32,"s":5},{"t":"2008-10-28","v":3.64,"s":5},{"t":"2008-11-02","v":3.64,"s":5},{"t":"2008-11-07","v":3.53,"s":5},{"t":"2008-11-10","v":3.32,"s":5},{"t":"2008-11-13","v":3.01,"s":5},{"t":"2008-11-18","v":2.69,"s":5},{"t":"2008-11-21","v":3.22,"s":5},{"t":"2008-11-25","v":3.43,"s":5},{"t":"2008-11-29","v":3.32,"s":5},{"t":"2008-12-02","v":3.11,"s":5},{"t":"2008-12-06","v":3.22,"s":5},{"t":"2008-12-10","v":3.49,"s":5},{"t":"2008-12-13","v":3.53,"s":5},
{"t":"2009-11-02","v":2.90,"s":6},{"t":"2009-11-03","v":4.81,"s":6},{"t":"2009-11-05","v":5.23,"s":6},{"t":"2009-11-07","v":5.66,"s":6},{"t":"2009-11-10","v":5.44,"s":6},{"t":"2009-11-13","v":6.08,"s":6},{"t":"2009-11-16","v":6.29,"s":6},{"t":"2009-11-19","v":6.50,"s":6},{"t":"2009-11-21","v":5.02,"s":6},{"t":"2009-11-24","v":6.50,"s":6},{"t":"2009-11-26","v":7.14,"s":6},{"t":"2009-11-29","v":8.20,"s":6},{"t":"2009-11-30","v":8.09,"s":6},{"t":"2009-12-03","v":8.41,"s":6},{"t":"2009-12-05","v":9.47,"s":6},{"t":"2009-12-07","v":10.53,"s":6},{"t":"2009-12-10","v":11.59,"s":6},{"t":"2009-12-12","v":12.22,"s":6},{"t":"2009-12-14","v":12.44,"s":6},{"t":"2009-12-16","v":11.80,"s":6},{"t":"2009-12-24","v":13.50,"s":6},{"t":"2009-12-26","v":14.34,"s":6},{"t":"2009-12-28","v":15.09,"s":6},{"t":"2009-12-30","v":14.77,"s":6},{"t":"2009-12-31","v":13.50,"s":6},{"t":"2010-01-02","v":12.22,"s":6},{"t":"2010-01-05","v":11.59,"s":6},{"t":"2010-01-07","v":9.47,"s":6},
{"t":"2010-01-14","v":9.47,"s":7},{"t":"2010-01-16","v":9.89,"s":7},{"t":"2010-01-18","v":9.05,"s":7},{"t":"2010-01-20","v":10.11,"s":7},{"t":"2010-01-22","v":11.17,"s":7},{"t":"2010-01-24","v":7.99,"s":7},{"t":"2010-01-25","v":8.83,"s":7},{"t":"2010-01-27","v":11.38,"s":7},{"t":"2010-01-29","v":12.44,"s":7},{"t":"2010-01-31","v":11.59,"s":7},{"t":"2010-02-01","v":12.86,"s":7},{"t":"2010-02-03","v":11.80,"s":7},{"t":"2010-02-05","v":11.38,"s":7},{"t":"2010-02-08","v":10.32,"s":7},{"t":"2010-02-11","v":9.47,"s":7},{"t":"2010-02-14","v":9.05,"s":7},{"t":"2010-02-18","v":8.52,"s":7},{"t":"2010-02-20","v":8.83,"s":7},{"t":"2010-02-22","v":9.68,"s":7},{"t":"2010-02-25","v":9.89,"s":7},{"t":"2010-03-01","v":10.11,"s":7},{"t":"2010-03-03","v":9.89,"s":7},{"t":"2010-03-07","v":9.68,"s":7},{"t":"2010-03-10","v":9.79,"s":7},{"t":"2010-03-13","v":9.36,"s":7},{"t":"2010-03-16","v":9.79,"s":7},{"t":"2010-03-20","v":10.11,"s":7},{"t":"2010-03-23","v":9.47,"s":7},{"t":"2010-03-26","v":9.89,"s":7},{"t":"2010-03-29","v":10.00,"s":7},{"t":"2010-04-01","v":9.26,"s":7},{"t":"2010-04-03","v":9.89,"s":7},{"t":"2010-04-06","v":9.79,"s":7},{"t":"2010-04-10","v":9.68,"s":7},{"t":"2010-04-13","v":9.79,"s":7},{"t":"2010-04-16","v":9.47,"s":7},{"t":"2010-04-18","v":9.47,"s":7},
{"t":"2010-08-25","v":9.05,"s":8},{"t":"2010-08-27","v":9.68,"s":8},{"t":"2010-08-29","v":9.26,"s":8},{"t":"2010-09-01","v":8.62,"s":8},{"t":"2010-09-03","v":8.83,"s":8},{"t":"2010-09-06","v":8.20,"s":8},{"t":"2010-09-09","v":7.99,"s":8},{"t":"2010-09-12","v":8.09,"s":8},{"t":"2010-09-14","v":7.56,"s":8},{"t":"2010-09-17","v":8.20,"s":8},{"t":"2010-09-21","v":7.99,"s":8},{"t":"2010-09-24","v":8.41,"s":8},{"t":"2010-09-27","v":7.99,"s":8},{"t":"2010-10-02","v":8.62,"s":8},{"t":"2010-10-05","v":8.83,"s":8},{"t":"2010-10-08","v":9.15,"s":8},{"t":"2010-10-11","v":8.20,"s":8},{"t":"2010-10-14","v":7.14,"s":8},{"t":"2010-10-16","v":7.78,"s":8},{"t":"2010-10-18","v":7.56,"s":8},{"t":"2010-10-21","v":7.99,"s":8},{"t":"2010-10-24","v":7.78,"s":8},{"t":"2010-10-28","v":8.41,"s":8},{"t":"2010-10-31","v":8.20,"s":8},{"t":"2010-11-03","v":8.62,"s":8},{"t":"2010-11-05","v":7.99,"s":8},{"t":"2010-11-07","v":8.73,"s":8},{"t":"2010-11-09","v":8.41,"s":8},{"t":"2010-11-12","v":7.78,"s":8},{"t":"2010-11-14","v":7.25,"s":8},{"t":"2010-11-17","v":5.87,"s":8},{"t":"2010-11-19","v":7.56,"s":8},{"t":"2010-11-21","v":9.26,"s":8},{"t":"2010-11-23","v":10.11,"s":8},{"t":"2010-11-26","v":10.95,"s":8},
{"t":"2010-12-04","v":8.62,"s":9},{"t":"2010-12-05","v":9.47,"s":9},{"t":"2010-12-08","v":7.99,"s":9},{"t":"2010-12-10","v":8.83,"s":9},{"t":"2010-12-12","v":7.56,"s":9},{"t":"2010-12-14","v":7.78,"s":9},{"t":"2010-12-17","v":8.83,"s":9},{"t":"2010-12-19","v":9.36,"s":9},
{"t":"2011-01-01","v":9.05,"s":10},{"t":"2011-01-08","v":9.05,"s":10},{"t":"2011-01-15","v":9.05,"s":10},{"t":"2011-01-18","v":9.26,"s":10},{"t":"2011-01-21","v":9.89,"s":10},{"t":"2011-01-24","v":9.26,"s":10},{"t":"2011-01-26","v":8.52,"s":10},
{"t":"2011-02-02","v":9.05,"s":11},{"t":"2011-02-05","v":8.62,"s":11},{"t":"2011-02-08","v":7.99,"s":11},{"t":"2011-02-11","v":8.41,"s":11},{"t":"2011-02-15","v":8.62,"s":11},{"t":"2011-02-18","v":9.05,"s":11},{"t":"2011-02-20","v":8.41,"s":11},{"t":"2011-02-23","v":7.78,"s":11},{"t":"2011-02-25","v":6.93,"s":11},{"t":"2011-02-28","v":6.93,"s":11},{"t":"2011-03-03","v":6.71,"s":11},{"t":"2011-03-06","v":6.82,"s":11},{"t":"2011-03-09","v":6.61,"s":11},{"t":"2011-03-11","v":7.14,"s":11},{"t":"2011-03-13","v":6.08,"s":11},{"t":"2011-03-14","v":7.14,"s":11},{"t":"2011-03-16","v":7.46,"s":11}]
},
"layer":[
{"data":{"name":"step"},
 "mark":{"type":"line","interpolate":"step-after","color":"#bebebe","strokeWidth":3.5,"clip":true},
 "encoding":{
  "y":{"field":"v","type":"quantitative","scale":{"domain":[-1,26],"nice":false,"zero":false},
   "axis":{"values":[0,5,10,15,20,25],"grid":false,"labelAngle":270,"labelAlign":"center","labelBaseline":"alphabetic","labelFontSize":17,"labelColor":"black","labelPadding":18,"tickSize":10,"tickColor":"black","domain":false,"title":null,"labelOverlap":false}}}},
{"data":{"name":"prec"},
 "mark":{"type":"rule","strokeWidth":2,"clip":true},
 "encoding":{
  "y":{"field":"v","type":"quantitative","scale":{"domain":[-1,26],"reverse":true,"nice":false,"zero":false},"axis":null},
  "y2":{"datum":0},
  "color":{"datum":"Precipitation","type":"nominal","scale":{"domain":["NO3-N [mg/l]","Precipitation","Drain discharge"],"range":["#00ff00","#0000ff","#000000"]},
   "legend":{"orient":"none","legendX":1257,"legendY":354,"title":null,"symbolType":"stroke","symbolSize":729,"symbolStrokeWidth":1.3,"symbolOpacity":1,"symbolOffset":9,"labelFontSize":14,"labelColor":"black","labelOffset":11,"labelLimit":300,"rowPadding":-9.4,"padding":4,"strokeColor":"black","fillColor":"white","cornerRadius":0,"zindex":2}}}},
{"data":{"name":"dis"},
 "mark":{"type":"rule","strokeWidth":2,"opacity":0.32,"clip":true},
 "encoding":{
  "y":{"field":"v","type":"quantitative","scale":{"domain":[-1,26],"reverse":true,"nice":false,"zero":false},"axis":null},
  "y2":{"datum":0},
  "color":{"datum":"Drain discharge","type":"nominal","scale":{"domain":["NO3-N [mg/l]","Precipitation","Drain discharge"],"range":["#00ff00","#0000ff","#000000"]},
   "legend":{"orient":"none","legendX":1257,"legendY":354,"title":null,"symbolType":"stroke","symbolSize":729,"symbolStrokeWidth":1.3,"symbolOpacity":1,"symbolOffset":9,"labelFontSize":14,"labelColor":"black","labelOffset":11,"labelLimit":300,"rowPadding":-9.4,"padding":4,"strokeColor":"black","fillColor":"white","cornerRadius":0,"zindex":2}}}},
{"data":{"name":"no3"},
 "mark":{"type":"line","strokeWidth":1.2,"clip":true},
 "encoding":{
  "y":{"field":"v","type":"quantitative","scale":{"domain":[-1,26],"nice":false,"zero":false},"axis":null},
  "detail":{"field":"s","type":"nominal"},
  "color":{"datum":"NO3-N [mg/l]","type":"nominal","scale":{"domain":["NO3-N [mg/l]","Precipitation","Drain discharge"],"range":["#00ff00","#0000ff","#000000"]},
   "legend":{"orient":"none","legendX":1257,"legendY":354,"title":null,"symbolType":"stroke","symbolSize":729,"symbolStrokeWidth":1.3,"symbolOpacity":1,"symbolOffset":9,"labelFontSize":14,"labelColor":"black","labelOffset":11,"labelLimit":300,"rowPadding":-9.4,"padding":4,"strokeColor":"black","fillColor":"white","cornerRadius":0,"zindex":2}}}},
{"data":{"name":"grid"},
 "mark":{"type":"rule","color":"#d3d3d3","strokeDash":[1,3],"strokeWidth":1},
 "encoding":{}},
{"data":{"name":"hgrid"},
 "mark":{"type":"rule","color":"#d3d3d3","strokeDash":[1,3],"strokeWidth":1},
 "encoding":{"x":null,
  "y":{"field":"v","type":"quantitative","scale":{"domain":[-1,26],"nice":false,"zero":false},"axis":null}}}
]
}
